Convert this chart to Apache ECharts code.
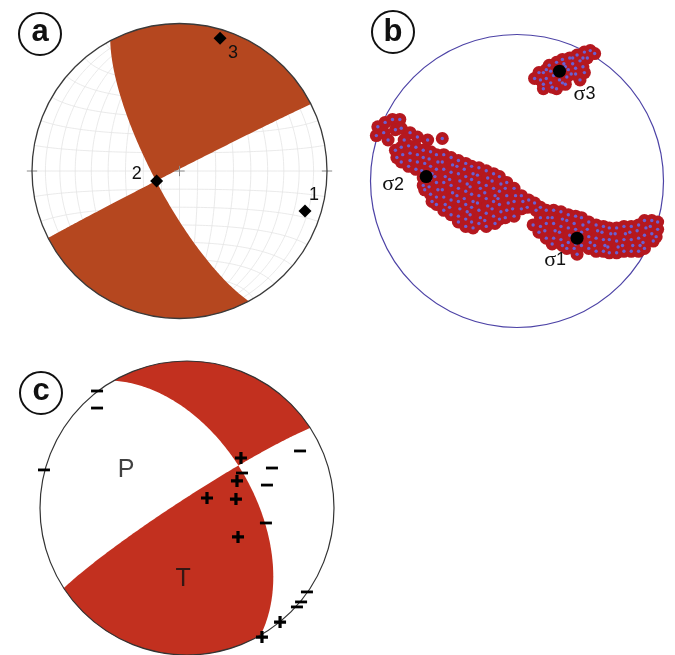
<!DOCTYPE html>
<html>
<head>
<meta charset="utf-8">
<script src="https://cdn.jsdelivr.net/npm/echarts@6/dist/echarts.min.js"></script>
<style>
html, body { margin: 0; padding: 0; background: #fff; }
#chart { width: 675px; height: 655px; }
</style>
</head>
<body>
<div id="chart"></div>
<script>
// ---------------- data ----------------
// (a) nodal planes [strike, dip] in degrees, lower hemisphere
const planesA = [[243, 89], [152, 76]];
// (a) principal axes, net coordinates (unit radius)
const axisPointsA = [[0.851, -0.271], [-0.155, -0.068], [0.275, 0.900]];
const axisNamesA = ['1', '2', '3'];

// (b) stress inversion solutions, net coordinates in % of radius
const cloudSigma3 = [
  [50,89],[46,88],[41,86],[36,84],[31,83],[27,81],[22,79],[48,84],[43,82],[38,80],
  [33,78],[27,77],[23,75],[18,74],[45,78],[40,77],[35,76],[30,73],[25,72],[20,70],
  [16,69],[40,73],[34,71],[29,69],[23,67],[18,66],[18,63],[27,63],[43,69],[15,74],[53,87],
  [20,76],[26,74],[32,80],[37,73],[31,67],[24,64],[45,84],[38,84],[12,70],[33,66],[46,74]
];
const cloudSigma2 = [
  [-96,31],[-95,37],[-90,40],[-91,33],[-85,42],[-80,42],[-83,35],[-88,28],[-79,36],[-73,33],
  [-68,30],[-77,28],[-51,29],[-61,28],
  [-83,21],[-82,16],[-79,23],[-78,18],[-79,13],[-74,24],[-73,19],[-73,14],[-74,10],
  [-69,23],[-68,18],[-68,13],[-69,8],
  [-64,21],[-64,16],[-63,12],[-65,7],[-64,2],[-64,-3],[-63,-6],
  [-59,20],[-60,15],[-59,10],[-58,5],[-59,1],[-60,-4],[-59,-9],[-58,-14],
  [-55,18],[-54,13],[-55,8],[-56,3],[-55,-1],[-54,-6],[-55,-11],[-55,-16],
  [-50,18],[-51,13],[-50,8],[-49,3],[-50,-1],[-51,-6],[-50,-11],[-49,-16],[-50,-20],
  [-45,16],[-44,11],[-45,6],[-46,1],[-45,-3],[-44,-8],[-45,-13],[-46,-18],[-45,-23],
  [-40,14],[-41,10],[-40,5],[-39,0],[-40,-5],[-41,-10],[-40,-14],[-39,-19],[-40,-24],[-40,-28],
  [-35,12],[-36,8],[-35,3],[-34,-2],[-35,-7],[-36,-12],[-35,-16],[-34,-21],[-35,-26],[-35,-31],
  [-31,10],[-30,5],[-31,1],[-32,-4],[-31,-9],[-30,-14],[-31,-18],[-32,-23],[-31,-28],[-30,-32],
  [-26,9],[-27,4],[-26,-1],[-25,-5],[-26,-10],[-27,-15],[-26,-20],[-25,-25],[-26,-29],
  [-21,7],[-20,2],[-21,-3],[-22,-8],[-21,-12],[-20,-17],[-21,-22],[-22,-27],[-21,-31],
  [-16,5],[-17,0],[-16,-5],[-15,-10],[-16,-14],[-17,-19],[-16,-24],[-15,-29],
  [-12,3],[-11,-2],[-12,-7],[-13,-12],[-12,-16],[-11,-21],[-12,-26],
  [-7,-1],[-8,-5],[-7,-10],[-6,-15],[-7,-20],[-8,-25],
  [-2,-5],[-1,-10],[-2,-14],[-3,-19],[-2,-24],
  [3,-10],[4,-14],[3,-19],[8,-13],[7,-18],[12,-15],[13,-20],[16,-18]
];
const cloudSigma1 = [
  [11,-30],[16,-25],[16,-31],[15,-35],
  [20,-20],[21,-25],[20,-29],[19,-34],[20,-39],
  [25,-20],[24,-25],[25,-29],[26,-34],[25,-39],[24,-43],
  [30,-21],[31,-26],[30,-31],[29,-35],[30,-40],[31,-44],
  [35,-23],[34,-27],[35,-32],[36,-37],[35,-42],[34,-46],
  [40,-24],[39,-29],[40,-33],[40,-43],[39,-46],
  [44,-25],[45,-30],[44,-35],[43,-40],[44,-44],
  [49,-28],[48,-33],[49,-38],[50,-42],[49,-46],
  [54,-30],[55,-34],[54,-39],[53,-44],[54,-48],
  [59,-31],[58,-35],[59,-40],[60,-44],[59,-48],
  [63,-32],[64,-36],[63,-40],[62,-45],[63,-49],
  [68,-32],[67,-36],[68,-41],[69,-45],[68,-49],
  [73,-31],[74,-36],[73,-40],[72,-44],[73,-48],
  [78,-31],[77,-35],[78,-40],[79,-44],[78,-48],
  [83,-30],[82,-34],[83,-39],[84,-44],[83,-48],
  [87,-27],[88,-32],[87,-37],[86,-42],[87,-46],
  [92,-27],[91,-31],[92,-36],[93,-41],
  [96,-28],[96,-33],[95,-38],
  [41,-50]
];
const stressAxes = [[41, -39], [-62, 3], [29, 75]];
const stressNames = ['1', '2', '3'];

// (c) nodal planes [strike, dip] and first-motion polarities, net coordinates
const planesC = [[237, 85], [330, 53]];
const polarityUp = [
  [0.367, 0.340], [0.340, 0.184], [0.136, 0.068], [0.333, 0.061],
  [0.347, -0.197], [0.633, -0.776], [0.510, -0.878]
];
const polarityDown = [
  [0.769, 0.388], [0.578, 0.272], [0.374, 0.238], [0.544, 0.156], [0.537, -0.102],
  [0.816, -0.571], [0.776, -0.639], [0.748, -0.673],
  [-0.612, 0.796], [-0.612, 0.680], [-0.973, 0.259]
];
const quadrantNames = [['P', -0.415, 0.259], ['T', -0.027, -0.483]];

// ---------------- stereonet geometry (equal-area, lower hemisphere) ----------------
const D = Math.PI / 180;
const dot = (a, b) => a[0] * b[0] + a[1] * b[1] + a[2] * b[2];
const cross = (a, b) => [a[1] * b[2] - a[2] * b[1], a[2] * b[0] - a[0] * b[2], a[0] * b[1] - a[1] * b[0]];

function basis(p) {
  const s = p[0] * D, d = p[1] * D, dd = s + Math.PI / 2;
  const sv = [Math.sin(s), Math.cos(s), 0];
  const dv = [Math.sin(dd) * Math.cos(d), Math.cos(dd) * Math.cos(d), Math.sin(d)];
  return { sv, dv, n: cross(sv, dv) };
}
function planeVector(p, t) {
  const b = basis(p), a = t * D;
  return [0, 1, 2].map(k => Math.cos(a) * b.sv[k] + Math.sin(a) * b.dv[k]);
}
function project(v) {
  let [e, n, z] = v;
  if (z < 0) { e = -e; n = -n; z = -z; }
  const h = Math.hypot(e, n), r = Math.sqrt(Math.max(0, 1 - z));
  return h < 1e-9 ? [0, 0] : [r * e / h, r * n / h];
}
function nodeTheta(p, q) {
  const A = basis(p), B = basis(q);
  let L = cross(A.n, B.n);
  if (L[2] < 0) L = L.map(c => -c);
  return Math.atan2(dot(L, A.dv), dot(L, A.sv)) / D;
}
function arcPoints(p, t0, t1) {
  const pts = [];
  for (let i = 0; i <= 80; i++) pts.push(project(planeVector(p, t0 + (t1 - t0) * i / 80)));
  return pts;
}
function rimPoints(az0, az1) {
  const span = (((az1 - az0) % 360) + 360) % 360, pts = [];
  for (let i = 0; i <= 120; i++) {
    const az = (az0 + span * i / 120) * D;
    pts.push([Math.sin(az), Math.cos(az)]);
  }
  return pts;
}
// shaded quadrant: rim from plane-2 end clockwise to plane-1 end, then both planes to the node
function quadrant(planes, e1, e2) {
  const [p1, p2] = planes;
  const t1 = nodeTheta(p1, p2), t2 = nodeTheta(p2, p1);
  return [...rimPoints(p2[0] + e2, p1[0] + e1), ...arcPoints(p1, e1, t1), ...arcPoints(p2, t2, e2)];
}
function netLines(step) {
  const lines = [];
  for (let dip = step; dip < 90; dip += step) {
    lines.push(arcPoints([0, dip], 0, 180));
    lines.push(arcPoints([180, dip], 0, 180));
  }
  lines.push([[0, -1], [0, 1]]);
  for (let a = step; a < 180; a += step) {
    const pts = [];
    for (let p = 0; p <= 180; p += 2) {
      pts.push(project([Math.sin(a * D) * Math.cos(p * D), Math.cos(a * D), Math.sin(a * D) * Math.sin(p * D)]));
    }
    lines.push(pts);
  }
  return lines;
}

const quadsA = [quadrant(planesA, 180, 180), quadrant(planesA, 0, 0)];
const quadsC = [quadrant(planesC, 180, 0), quadrant(planesC, 0, 180)];
const gridLinesA = netLines(10);
const ticksA = [[[-0.035, 0], [0.035, 0]], [[0, -0.035], [0, 0.035]], [[0.965, 0], [1.035, 0]], [[-1.035, 0], [-0.965, 0]]];

// ---------------- styles ----------------
const FILL_A = '#b5471f';
const FILL_C = '#c2301f';
const RED = '#b5181f';
const BLUE = '#6a60d2';
const PLUS = 'path://M4.4,0H7.6V4.4H12V7.6H7.6V12H4.4V7.6H0V4.4H4.4Z';
const MINUS = 'path://M0,0H12V2.8H0Z';
const labelShiftA = [[9, -16], [-20, -7], [13, 15]];
const labelShiftB = [[-22, 22], [-33, 8], [25, 23]];

function linesSeries(idx, lines, stroke, width, z) {
  return {
    type: 'custom', xAxisIndex: idx, yAxisIndex: idx, silent: true, z,
    data: [[0, 0]],
    renderItem: (params, api) => ({
      type: 'group',
      children: lines.map(l => ({
        type: 'polyline',
        shape: { points: l.map(p => api.coord(p)) },
        style: { stroke, lineWidth: width, fill: null }
      }))
    })
  };
}
function fillSeries(idx, polys, fill) {
  return {
    type: 'custom', xAxisIndex: idx, yAxisIndex: idx, silent: true, z: 3,
    data: polys.map(() => [0, 0]),
    renderItem: (params, api) => ({
      type: 'polygon',
      shape: { points: polys[params.dataIndex].map(p => api.coord(p)) },
      style: { fill }
    })
  };
}
function rimSeries(idx, unit, stroke, width) {
  return {
    type: 'custom', xAxisIndex: idx, yAxisIndex: idx, silent: true, z: 4,
    data: [[0, 0]],
    renderItem: (params, api) => {
      const c = api.coord([0, 0]);
      return {
        type: 'circle',
        shape: { cx: c[0], cy: c[1], r: api.size([unit, unit])[0] },
        style: { fill: 'none', stroke, lineWidth: width }
      };
    }
  };
}

const chart = echarts.init(document.getElementById('chart'), null, { renderer: 'canvas' });
const axis = (i, m) => ({ gridIndex: i, type: 'value', min: -m, max: m, show: false });

const badge = (cx, cy, letter, dy) => [
  { type: 'circle', shape: { cx, cy, r: 21 }, style: { fill: '#fff', stroke: '#111', lineWidth: 2 }, z: 10 },
  { type: 'text', x: cx, y: cy + dy, style: { text: letter, font: 'bold 31px "Liberation Sans", Arial, sans-serif', fill: '#111', align: 'center', verticalAlign: 'middle' }, z: 11 }
];

chart.setOption({
  animation: false,
  backgroundColor: '#fff',
  grid: [
    { left: 32, top: 23.5, width: 295, height: 295 },
    { left: 370.5, top: 34.5, width: 293, height: 293 },
    { left: 40, top: 361, width: 294, height: 294 }
  ],
  xAxis: [axis(0, 1), axis(1, 100), axis(2, 1)],
  yAxis: [axis(0, 1), axis(1, 100), axis(2, 1)],
  graphic: [...badge(40, 34, 'a', -2), ...badge(393, 32, 'b', 0), ...badge(41, 393, 'c', -2)],
  series: [
    // (a)
    linesSeries(0, gridLinesA, '#e4e4e4', 0.8, 1),
    fillSeries(0, quadsA, FILL_A),
    linesSeries(0, ticksA, '#8a8a8a', 1, 4),
    rimSeries(0, 1, '#3a3a3a', 1.3),
    {
      type: 'scatter', xAxisIndex: 0, yAxisIndex: 0, z: 6, symbol: 'diamond', symbolSize: 13,
      itemStyle: { color: '#000', opacity: 1 },
      data: axisPointsA.map((p, i) => ({
        value: p,
        label: {
          show: true, position: 'inside', offset: labelShiftA[i], formatter: axisNamesA[i],
          color: '#111', fontSize: 18, fontFamily: 'Liberation Sans'
        }
      }))
    },
    // (b)
    {
      type: 'scatter', xAxisIndex: 1, yAxisIndex: 1, z: 5, symbolSize: 13,
      itemStyle: { color: RED, opacity: 1 }, silent: true,
      data: [...cloudSigma1, ...cloudSigma2, ...cloudSigma3]
    },
    {
      type: 'scatter', xAxisIndex: 1, yAxisIndex: 1, z: 6, symbolSize: 3.4,
      itemStyle: { color: BLUE, opacity: 1 }, silent: true,
      data: [...cloudSigma1, ...cloudSigma2, ...cloudSigma3]
    },
    rimSeries(1, 100, '#4d43a6', 1.2),
    {
      type: 'scatter', xAxisIndex: 1, yAxisIndex: 1, z: 7, symbolSize: 13,
      itemStyle: { color: '#000', opacity: 1 },
      data: stressAxes.map((p, i) => ({
        value: p,
        label: {
          show: true, position: 'inside', offset: labelShiftB[i],
          formatter: '{s|σ}{n|' + stressNames[i] + '}',
          rich: {
            s: { fontFamily: 'Liberation Serif', fontSize: 22, color: '#111' },
            n: { fontFamily: 'Liberation Sans', fontSize: 18, color: '#111' }
          }
        }
      }))
    },
    // (c)
    fillSeries(2, quadsC, FILL_C),
    rimSeries(2, 1, '#333', 1.2),
    {
      type: 'scatter', xAxisIndex: 2, yAxisIndex: 2, z: 6, symbolSize: 2,
      itemStyle: { color: 'rgba(0,0,0,0)' }, silent: true,
      data: quadrantNames.map(q => ({
        value: [q[1], q[2]],
        label: { show: true, position: 'inside', formatter: q[0], color: '#111', fontSize: 25, fontFamily: 'Liberation Sans' }
      }))
    },
    {
      type: 'scatter', xAxisIndex: 2, yAxisIndex: 2, z: 7, symbol: PLUS, symbolSize: 12,
      symbolKeepAspect: true, itemStyle: { color: '#000', opacity: 1 }, data: polarityUp
    },
    {
      type: 'scatter', xAxisIndex: 2, yAxisIndex: 2, z: 7, symbol: MINUS, symbolSize: 12,
      symbolKeepAspect: true, itemStyle: { color: '#000', opacity: 1 }, data: polarityDown
    }
  ]
});
</script>
</body>
</html>
